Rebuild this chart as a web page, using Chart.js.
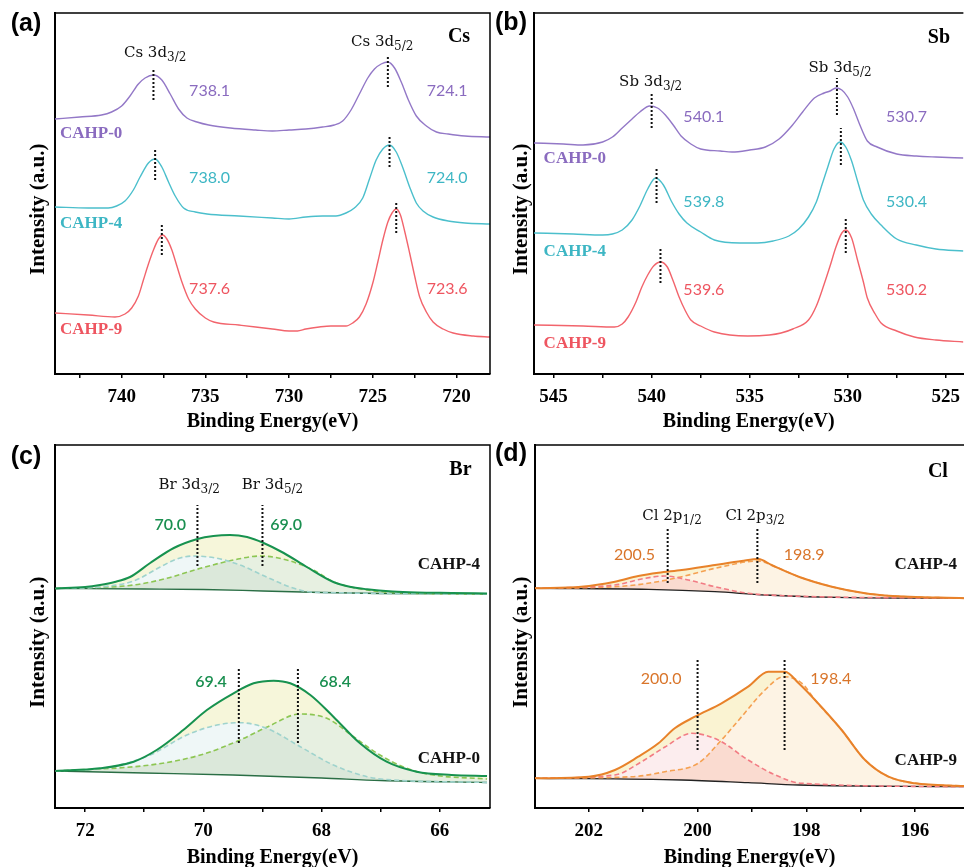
<!DOCTYPE html>
<html lang="en">
<head>
<meta charset="UTF-8">
<title>XPS spectra</title>
<script src="https://cdn.jsdelivr.net/npm/chart.js@4.4.0/dist/chart.umd.min.js"></script>
<style>
  html, body { margin: 0; padding: 0; background: #fff; overflow: hidden; }
  body { width: 964px; height: 867px; position: relative; }
  .panel { position: absolute; }
</style>
</head>
<body>
<div class="panel" style="left:0;top:0;width:492px;height:440px"><canvas id="chartA"></canvas></div>
<div class="panel" style="left:482px;top:0;width:486px;height:440px"><canvas id="chartB"></canvas></div>
<div class="panel" style="left:0;top:430px;width:492px;height:447px"><canvas id="chartC"></canvas></div>
<div class="panel" style="left:482px;top:430px;width:482px;height:447px"><canvas id="chartD"></canvas></div>
<script>
// ---- (a) Cs 3d ----
const csE0 = [744.0,742.5,741.2,740.6,740.0,739.5,739.0,738.6,738.1,737.6,737.1,736.6,736.1,735.5,734.8,733.5,732.0,731.0,730.0,729.0,728.0,727.3,726.8,726.3,725.8,725.3,724.9,724.5,724.1,723.7,723.3,722.9,722.4,721.8,721.2,720.5,719.5,718.0];
const csY0 = [255,257,259,262,268,278,290,296,299,294,280,265,256,252,249,246,244,243,244,245,247,249,253,264,280,296,305,310,312,306,292,275,258,248,242,240,238,237];
const csE4 = [744.0,742.0,740.8,740.3,739.8,739.3,738.9,738.4,738.0,737.6,737.2,736.8,736.3,735.6,734.9,733.0,731.0,730.0,729.0,728.0,727.2,726.6,726.1,725.6,725.2,724.8,724.4,724.0,723.6,723.2,722.8,722.4,722.0,721.4,720.5,719.5,718.0];
const csY4 = [167,166,166,168,173,184,197,211,215,207,192,178,166,162,160,158,156,155,157,158,158,161,166,176,195,214,225,229,222,206,187,171,163,157,153,151,150];
const csE9 = [744.0,742.0,740.4,739.8,739.4,739.0,738.7,738.4,738.1,737.8,737.55,737.3,737.0,736.7,736.4,736.0,735.6,735.0,734.5,733.0,732.0,731.0,730.0,729.5,729.0,728.2,727.5,726.6,726.2,725.8,725.4,725.0,724.7,724.4,724.1,723.85,723.6,723.35,723.1,722.8,722.5,722.2,721.8,721.4,720.8,720.2,719.0,718.0];
const csY9 = [61,59,57,60,66,78,94,110,124,135,139,135,124,108,92,75,65,56,52,49,47,45,43,43,45,47,48,48,51,57,70,91,112,134,152,161,165,159,143,121,98,77,62,52,45,41,38,37];
const csDropE = [738.1,724.1,738.0,724.0,737.6,723.6];
const csDropLo = [274,287,194,207,119,141];
const csDropHi = [306,318,226,239,151,172];

// ---- (b) Sb 3d ----
const sbE0 = [546.0,544.5,543.5,542.5,542.0,541.5,541.0,540.6,540.1,539.7,539.3,538.9,538.5,538.0,537.5,536.5,535.9,535.0,534.2,533.5,532.9,532.3,531.7,531.2,530.9,530.6,530.3,530.0,529.7,529.4,529.0,528.5,527.5,526.5,525.5,524.1];
const sbY0 = [231,230,229,232,237,246,255,262,268,266,259,249,238,230,225,223,222,224,227,235,247,262,276,281,283,286,284,277,265,250,233,227,220,218,217,216];
const sbE4 = [546.0,544.0,542.5,542.0,541.5,541.0,540.6,540.2,539.8,539.4,539.0,538.6,538.2,537.5,536.8,535.5,534.6,533.8,533.0,532.5,532.0,531.6,531.3,531.0,530.7,530.4,530.1,529.8,529.5,529.2,528.8,528.3,527.5,526.5,525.5,524.1];
const sbY4 = [141,140,139,140,144,154,168,185,196,189,173,160,151,142,134,131,131,133,138,145,157,172,190,208,225,232,227,213,193,174,160,149,135,129,125,123];
const sbE9 = [546.0,543.5,541.9,541.5,541.2,540.8,540.5,540.2,539.9,539.55,539.2,538.9,538.6,538.3,538.0,537.5,536.8,535.1,534.0,533.4,532.8,532.0,531.6,531.2,530.9,530.6,530.3,530.1,529.8,529.5,529.2,529.0,528.6,528.3,527.5,526.6,525.5,524.1];
const sbY9 = [49,48,47,50,57,72,87,99,108,112,107,93,77,64,54,48,42,38,39,41,45,54,68,90,108,127,141,144,136,114,92,76,60,51,43,37,34,32];
const sbDropE = [540.0,530.55,539.75,530.35,539.55,530.1];
const sbDropLo = [246,259,171,209,91,121];
const sbDropHi = [282,296,207,246,127,157];

// ---- (c) Br 3d, fitted ----
const brE4Bg = [72.5,71.0,70.0,69.0,68.0,67.0,65.2];
const brY4Bg = [219.5,219,218.5,217,215.5,214.5,214];
const brE4Env = [72.5,72.0,71.75,71.5,71.24,70.9,70.5,70.1,69.83,69.55,69.26,68.98,68.64,68.25,67.8,67.5,67.23,66.8,66.39,65.8,65.2];
const brY4Env = [219.5,221,223,226,231,245,260,269,272,273,271,265,255,241,226,221,218.7,216.5,215.5,215,214.5];
const brE4P1 = [72.5,71.75,71.18,70.73,70.45,70.17,69.77,69.38,68.93,68.53,68.19,67.8,67.0,65.2];
const brY4P1 = [219.5,221,227,241,249,252,249.7,243,231,221,216,215.3,214.5,214];
const brE4P2 = [72.5,71.18,70.62,70.05,69.49,69.04,68.59,68.14,67.8,67.23,66.6,65.2];
const brY4P2 = [219.5,223,229.7,239.7,248,252,248,238,226.3,218,215,214];
const brE0Bg = [72.5,71.0,69.5,68.0,67.0,65.2];
const brY0Bg = [37,35,33,30,27.5,25.5];
const brE0Env = [72.5,71.75,71.18,70.79,70.34,69.94,69.49,69.15,68.81,68.53,68.19,67.8,67.35,66.9,66.39,65.8,65.2];
const brY0Env = [37,39.7,46.3,58,78,98,114.7,124.7,127.3,124.7,113,91.3,64.7,46.3,36.3,33,32];
const brE0P1 = [72.5,71.58,70.9,70.28,69.77,69.38,68.93,68.36,67.8,67.23,66.9,65.2];
const brY0P1 = [37,41,53,73,83,85.3,79.7,61.3,43,31.3,28.5,25.5];
const brE0P2 = [72.5,70.9,70.05,69.38,68.93,68.36,67.91,67.46,67.06,66.56,66.11,65.2];
const brY0P2 = [37,43,53,68,80.7,94,89.7,71.3,54.7,39.7,33,29];
const brDropE = [70.1,69.0,69.4,68.4];
const brDropLo = [242,242,65,65];
const brDropHi = [303,303,141,141];

// ---- (d) Cl 2p, fitted ----
const clE4Bg = [203.0,200.9,199.68,198.76,197.22,195.1];
const clY4Bg = [219.7,218.7,216.3,213,210.3,209.7];
const clE4Env = [203.0,202.14,201.52,201.09,200.72,200.29,199.68,199.19,198.88,198.64,198.14,197.53,196.92,196.49,195.1];
const clY4Env = [219.7,221.3,226.3,232,235.3,238,243,247,249,243,231.3,221.3,214.7,212.3,209.7];
const clE4P1 = [203.0,201.52,200.97,200.6,200.17,199.68,199.07,198.5,195.1];
const clY4P1 = [219.7,223,229.7,232,228,221.3,214.7,212.5,209.7];
const clE4P2 = [203.0,201.52,200.91,200.29,199.68,198.88,198.57,198.14,197.53,196.92,196.49,195.1];
const clY4P2 = [219.7,221.3,224.7,231.3,239.7,247,241.3,231.3,221.3,214.7,212.3,209.7];
const clE9Bg = [203.0,200.29,199.07,198.14,195.1];
const clY9Bg = [29.7,28,25.3,23,21.3];
const clE9Env = [203.0,202.0,201.52,201.09,200.72,200.42,200.05,199.56,199.07,198.7,198.39,198.14,197.84,197.35,196.92,196.49,196.0,195.1];
const clY9Env = [29.7,31.3,38,51.3,64.7,79.7,91.3,104.7,121.3,136.3,136.3,124.7,108,78,48,31.3,24.7,22];
const clE9P1 = [203.0,201.52,201.03,200.6,200.11,199.62,199.07,198.57,198.08,195.1];
const clY9P1 = [29.7,33,46.3,61,74.7,68,48,33,24.7,21.3];
const clE9P2 = [203.0,201.21,200.6,199.99,199.56,199.19,198.76,198.42,198.08,197.84,197.35,196.92,196.49,196.0,195.1];
const clY9P2 = [29.7,31.3,36.3,44.7,68,91.3,118,131.3,124.7,108,78,48,31.3,24.7,22];
const clDropE = [200.55,198.9,200.0,198.4];
const clDropLo = [225,225,58,58];
const clDropHi = [281,281,148,148];

// colours
const COL = {
  purple: '#9378c7', purpleT: '#8a6bbf',
  cyan: '#4bbfcc', cyanT: '#3db6c4',
  red: '#f2646c', redT: '#ee5560',
  greenT: '#1a8f50', orangeT: '#d9752a'
};
const brPal = { base: '#2a6e45', env: '#17924f', l1: '#9fd3cd', l2: '#8dc653',
                fEnv: '#f6f6da', fP1: '#eff7f7', fP2: '#e7f0e1', fBoth: '#dbe8da' };
const clPal = { base: '#222222', env: '#e8822a', l1: '#f27c84', l2: '#f5a152',
                fEnv: '#faf3d2', fP1: '#fcedee', fP2: '#fdf3e4', fBoth: '#fadbd0' };

// fonts
const F = {
  peak: '15px "DejaVu Serif"', sub: '12px "DejaVu Serif"',
  elem: 'bold 20px "Liberation Serif"',
  val: '16px Lato', valB: '600 16px Lato',
  sample: 'bold 17px "Liberation Serif"'
};
const tickFont = { family: '"Liberation Serif", serif', size: 19, weight: 'bold' };
const titleFont = { family: '"Liberation Serif", serif', size: 20, weight: 'bold' };
const yTitleFont = { family: '"Liberation Serif", serif', size: 21, weight: 'bold' };

function pts(xs, ys) { return xs.map((x, i) => ({ x: x, y: ys[i] })); }

function line(xs, ys, color, extra) {
  return Object.assign({
    data: pts(xs, ys), borderColor: color, borderWidth: 1.4, pointRadius: 0,
    fill: false, cubicInterpolationMode: 'monotone'
  }, extra || {});
}

function drops(E, lo, hi) {
  return E.map((e, i) => ({
    data: [{ x: e, y: lo[i] }, { x: e, y: hi[i] }],
    borderColor: '#111', borderWidth: 2, borderDash: [2, 2], pointRadius: 0,
    fill: false, order: 0
  }));
}

// fitted spectrum: background, envelope, two components with overlap shading
function fitted(ds, bgE, bgY, envE, envY, p1E, p1Y, p2E, p2Y, pal) {
  const b = ds.length;
  ds.push(line(bgE, bgY, pal.base, { borderWidth: 1.3, order: 4 }));
  ds.push(line(envE, envY, 'transparent', { borderWidth: 0, fill: b, backgroundColor: pal.fEnv, order: 10 }));
  ds.push(line(p1E, p1Y, 'transparent', { borderWidth: 0, fill: b, backgroundColor: pal.fBoth, order: 9 }));
  ds.push(line(p2E, p2Y, 'transparent', { borderWidth: 0, fill: b, backgroundColor: pal.fBoth, order: 8 }));
  ds.push(line(p1E, p1Y, 'transparent', { borderWidth: 0, fill: { target: b + 3, above: pal.fP1, below: pal.fP2 }, order: 7 }));
  ds.push(line(p1E, p1Y, pal.l1, { borderWidth: 1.6, borderDash: [5, 3], order: 3 }));
  ds.push(line(p2E, p2Y, pal.l2, { borderWidth: 1.6, borderDash: [5, 3], order: 3 }));
  ds.push(line(envE, envY, pal.env, { borderWidth: 2, order: 2 }));
}

function onStep(v, step) { return Math.abs(v / step - Math.round(v / step)) < 1e-6; }

// frame, panel letter and text labels
const notesPlugin = {
  id: 'notes',
  afterDraw(chart, args, opts) {
    const { ctx, chartArea: a, scales: { x, y } } = chart;
    ctx.save();
    ctx.strokeStyle = '#000';
    ctx.lineWidth = 1.5;
    ctx.beginPath();
    ctx.moveTo(a.left, a.top);
    ctx.lineTo(a.right, a.top);
    if (opts.rightEdge) ctx.lineTo(a.right, a.bottom);
    ctx.stroke();

    ctx.textBaseline = 'middle';
    ctx.textAlign = 'center';
    ctx.fillStyle = '#000';
    ctx.font = 'bold 25px "Liberation Sans"';
    ctx.fillText(opts.panel, opts.px, opts.py);

    ctx.textAlign = 'left';
    opts.items.forEach(it => {
      ctx.font = it.font;
      const w1 = ctx.measureText(it.t).width;
      let w2 = 0;
      if (it.sub) { ctx.font = F.sub; w2 = ctx.measureText(it.sub).width; }
      const px = x.getPixelForValue(it.x);
      const py = y.getPixelForValue(it.y);
      const align = it.align || 'center';
      const x0 = align === 'center' ? px - (w1 + w2) / 2 : align === 'right' ? px - (w1 + w2) : px;
      ctx.fillStyle = it.color || '#111';
      ctx.font = it.font;
      ctx.fillText(it.t, x0, py);
      if (it.sub) { ctx.font = F.sub; ctx.fillText(it.sub, x0 + w1, py + 5); }
    });
    ctx.restore();
  }
};

function makeOptions(cfg) {
  return {
    responsive: true, maintainAspectRatio: false, animation: false,
    layout: { padding: { top: cfg.padTop, right: cfg.padRight, left: 0, bottom: 0 } },
    plugins: { legend: { display: false }, tooltip: { enabled: false }, notes: cfg.notes },
    scales: {
      x: {
        type: 'linear', reverse: true, min: cfg.xMin, max: cfg.xMax,
        afterBuildTicks: s => { s.ticks = s.ticks.filter(t => onStep(t.value, cfg.step)); },
        afterFit: s => { s.height = cfg.xHeight; },
        ticks: {
          stepSize: cfg.step, includeBounds: false, autoSkip: false, maxRotation: 0, padding: 8,
          color: '#000', font: tickFont,
          callback: v => onStep(v, cfg.major) ? String(Math.round(v)) : ''
        },
        grid: { drawOnChartArea: false, drawTicks: true, tickLength: 4, color: '#000', lineWidth: 1.5 },
        border: { color: '#000', width: 2 },
        title: { display: true, text: 'Binding Energy(eV)', color: '#000', font: titleFont,
                 padding: { top: 0, bottom: cfg.titlePad } }
      },
      y: {
        min: 0, max: cfg.yMax,
        afterFit: s => { s.width = cfg.yWidth; },
        ticks: { display: false },
        grid: { display: false },
        border: { display: true, color: '#000', width: 2 },
        title: { display: true, text: 'Intensity (a.u.)      ', color: '#000', font: yTitleFont,
                 padding: { top: cfg.yTitlePad, bottom: 0 } }
      }
    }
  };
}

// ---------- chart (a) ----------
const dsA = [
  line(csE0, csY0, COL.purple, { order: 2 }),
  line(csE4, csY4, COL.cyan, { order: 2 }),
  line(csE9, csY9, COL.red, { order: 2 })
].concat(drops(csDropE, csDropLo, csDropHi));

new Chart(document.getElementById('chartA'), {
  type: 'line',
  data: { datasets: dsA },
  options: makeOptions({
    padTop: 13, padRight: 2, xMin: 718.0, xMax: 743.98, step: 2.5, major: 5,
    xHeight: 66, titlePad: 6, yMax: 361, yWidth: 55, yTitlePad: 26,
    notes: {
      panel: '(a)', px: 26, py: 24, rightEdge: true,
      items: [
        { t: 'Cs 3d', sub: '3/2', x: 738.0, y: 320.7, font: F.peak },
        { t: 'Cs 3d', sub: '5/2', x: 724.44, y: 332.3, font: F.peak },
        { t: 'Cs', x: 719.85, y: 336.7, font: F.elem, color: '#000' },
        { t: '738.1', x: 734.75, y: 283.3, font: F.val, color: COL.purpleT },
        { t: '724.1', x: 720.56, y: 283.3, font: F.val, color: COL.purpleT },
        { t: '738.0', x: 734.75, y: 196.3, font: F.val, color: COL.cyanT },
        { t: '724.0', x: 720.56, y: 196.3, font: F.val, color: COL.cyanT },
        { t: '737.6', x: 734.75, y: 84.7, font: F.val, color: COL.redT },
        { t: '723.6', x: 720.56, y: 84.7, font: F.val, color: COL.redT },
        { t: 'CAHP-0', x: 743.68, y: 240.7, font: F.sample, color: COL.purpleT, align: 'left' },
        { t: 'CAHP-4', x: 743.68, y: 150.7, font: F.sample, color: COL.cyanT, align: 'left' },
        { t: 'CAHP-9', x: 743.68, y: 44.7, font: F.sample, color: COL.redT, align: 'left' }
      ]
    }
  }),
  plugins: [notesPlugin]
});

// ---------- chart (b) ----------
const dsB = [
  line(sbE0, sbY0, COL.purple, { order: 2 }),
  line(sbE4, sbY4, COL.cyan, { order: 2 }),
  line(sbE9, sbY9, COL.red, { order: 2 })
].concat(drops(sbDropE, sbDropLo, sbDropHi));

new Chart(document.getElementById('chartB'), {
  type: 'line',
  data: { datasets: dsB },
  options: makeOptions({
    padTop: 13, padRight: 0, xMin: 524.1, xMax: 546.0, step: 2.5, major: 5,
    xHeight: 66, titlePad: 6, yMax: 361, yWidth: 52, yTitlePad: 27,
    notes: {
      panel: '(b)', px: 29, py: 23, rightEdge: false,
      items: [
        { t: 'Sb 3d', sub: '3/2', x: 540.05, y: 292, font: F.peak },
        { t: 'Sb 3d', sub: '5/2', x: 530.39, y: 305.7, font: F.peak },
        { t: 'Sb', x: 525.35, y: 336, font: F.elem, color: '#000' },
        { t: '540.1', x: 537.34, y: 257.3, font: F.val, color: COL.purpleT },
        { t: '530.7', x: 527.0, y: 257.3, font: F.val, color: COL.purpleT },
        { t: '539.8', x: 537.34, y: 172.3, font: F.val, color: COL.cyanT },
        { t: '530.4', x: 527.0, y: 172.3, font: F.val, color: COL.cyanT },
        { t: '539.6', x: 537.34, y: 84, font: F.val, color: COL.redT },
        { t: '530.2', x: 527.0, y: 84, font: F.val, color: COL.redT },
        { t: 'CAHP-0', x: 545.51, y: 215.7, font: F.sample, color: COL.purpleT, align: 'left' },
        { t: 'CAHP-4', x: 545.51, y: 122.3, font: F.sample, color: COL.cyanT, align: 'left' },
        { t: 'CAHP-9', x: 545.51, y: 30, font: F.sample, color: COL.redT, align: 'left' }
      ]
    }
  }),
  plugins: [notesPlugin]
});

// ---------- chart (c) ----------
const dsC = [];
fitted(dsC, brE4Bg, brY4Bg, brE4Env, brY4Env, brE4P1, brY4P1, brE4P2, brY4P2, brPal);
fitted(dsC, brE0Bg, brY0Bg, brE0Env, brY0Env, brE0P1, brY0P1, brE0P2, brY0P2, brPal);
drops(brDropE, brDropLo, brDropHi).forEach(d => dsC.push(d));

new Chart(document.getElementById('chartC'), {
  type: 'line',
  data: { datasets: dsC },
  options: makeOptions({
    padTop: 15, padRight: 2, xMin: 65.15, xMax: 72.51, step: 1, major: 2,
    xHeight: 69, titlePad: 7, yMax: 363, yWidth: 55, yTitlePad: 26,
    notes: {
      panel: '(c)', px: 26, py: 27, rightEdge: true,
      items: [
        { t: 'Br 3d', sub: '3/2', x: 70.24, y: 323, font: F.peak },
        { t: 'Br 3d', sub: '5/2', x: 68.83, y: 323, font: F.peak },
        { t: 'Br', x: 65.65, y: 338, font: F.elem, color: '#000' },
        { t: '70.0', x: 70.56, y: 283, font: F.valB, color: COL.greenT },
        { t: '69.0', x: 68.6, y: 283, font: F.valB, color: COL.greenT },
        { t: '69.4', x: 69.87, y: 126.3, font: F.valB, color: COL.greenT },
        { t: '68.4', x: 67.77, y: 126.3, font: F.valB, color: COL.greenT },
        { t: 'CAHP-4', x: 65.32, y: 243, font: F.sample, color: '#111', align: 'right' },
        { t: 'CAHP-0', x: 65.32, y: 49, font: F.sample, color: '#111', align: 'right' }
      ]
    }
  }),
  plugins: [notesPlugin]
});

// ---------- chart (d) ----------
const dsD = [];
fitted(dsD, clE4Bg, clY4Bg, clE4Env, clY4Env, clE4P1, clY4P1, clE4P2, clY4P2, clPal);
fitted(dsD, clE9Bg, clY9Bg, clE9Env, clY9Env, clE9P1, clY9P1, clE9P2, clY9P2, clPal);
drops(clDropE, clDropLo, clDropHi).forEach(d => dsD.push(d));

new Chart(document.getElementById('chartD'), {
  type: 'line',
  data: { datasets: dsD },
  options: makeOptions({
    padTop: 15, padRight: 0, xMin: 195.1, xMax: 202.99, step: 1, major: 2,
    xHeight: 69, titlePad: 7, yMax: 363, yWidth: 53, yTitlePad: 27,
    notes: {
      panel: '(d)', px: 29, py: 24, rightEdge: false,
      items: [
        { t: 'Cl 2p', sub: '1/2', x: 200.47, y: 292, font: F.peak },
        { t: 'Cl 2p', sub: '3/2', x: 198.94, y: 292, font: F.peak },
        { t: 'Cl', x: 195.58, y: 336.3, font: F.elem, color: '#000' },
        { t: '200.5', x: 201.16, y: 253, font: F.val, color: COL.orangeT },
        { t: '198.9', x: 198.04, y: 253, font: F.val, color: COL.orangeT },
        { t: '200.0', x: 200.67, y: 128.7, font: F.val, color: COL.orangeT },
        { t: '198.4', x: 197.55, y: 128.7, font: F.val, color: COL.orangeT },
        { t: 'CAHP-4', x: 195.23, y: 243, font: F.sample, color: '#111', align: 'right' },
        { t: 'CAHP-9', x: 195.23, y: 47.3, font: F.sample, color: '#111', align: 'right' }
      ]
    }
  }),
  plugins: [notesPlugin]
});
</script>
</body>
</html>
